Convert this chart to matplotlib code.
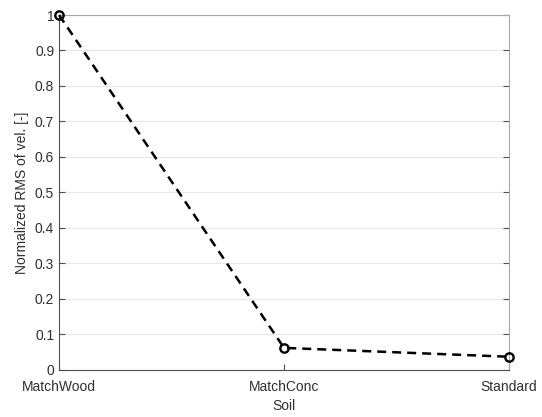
import matplotlib
matplotlib.use("Agg")
from matplotlib import pyplot as plt

soils = ["MatchWood", "MatchConc", "Standard"]
rms_vel = [1.0, 0.062, 0.037]
yticks = [0, 0.1, 0.2, 0.3, 0.4, 0.5, 0.6, 0.7, 0.8, 0.9, 1]

plt.rcParams['font.family'] = ['Liberation Sans', 'DejaVu Sans']
plt.rcParams['font.size'] = 10

fig = plt.figure(figsize=(5.42, 4.17), dpi=100)
ax = fig.add_axes([0.109, 0.113, 0.830, 0.851])

x = list(range(len(soils)))
# dashed black line with open circle markers, MATLAB look
ax.plot(x, rms_vel, linestyle='--', color='black', linewidth=1.8, dashes=(3.6, 2.4),
        marker='o', markersize=6, markerfacecolor='none', markeredgewidth=1.7, clip_on=False, zorder=3)

ax.set_xlim(0, 2)
ax.set_ylim(0, 1)
ax.set_xticks(x)
ax.set_xticklabels(soils)
ax.set_yticks(yticks)
ax.set_yticklabels([f"{v:g}" for v in yticks])
ax.yaxis.grid(True, color='#e8e8e8', linewidth=0.8)
ax.set_axisbelow(True)

for s in ax.spines.values():
    s.set_color('#a8a8a8')
    s.set_linewidth(0.8)
ax.spines['bottom'].set_color('#505050')
ax.spines['left'].set_color('#505050')

ax.tick_params(direction='in', length=4, color='#505050', labelcolor='#303030', right=True, top=False)
ax.tick_params(axis='x', pad=7)
ax.set_xlabel("Soil", color='#303030', labelpad=4)
ax.set_ylabel("Normalized RMS of vel. [-]", color='#303030', labelpad=4)

fig.savefig("out.png", dpi=100)
